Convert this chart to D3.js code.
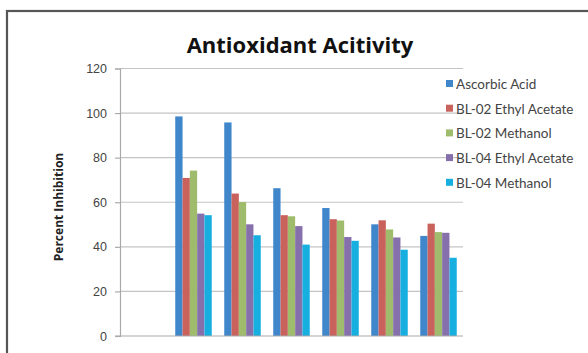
<!DOCTYPE html>
<html>
<head>
<meta charset="utf-8">
<script src="https://cdn.jsdelivr.net/npm/d3@7"></script>
<style>
  html, body { margin: 0; padding: 0; background: #fff; }
  svg { display: block; }
</style>
</head>
<body>
<script>
// Sample groups along the x axis; the first slot is left empty
const groups = ["", "1", "2", "3", "4", "5", "6"];
const seriesNames = ["Ascorbic Acid", "BL-02 Ethyl Acetate", "BL-02 Methanol", "BL-04 Ethyl Acetate", "BL-04 Methanol"];
const ascorbicAcid     = [null, 98.5, 95.8, 66.3, 57.4, 50.1, 44.9];
const bl02EthylAcetate = [null, 70.9, 63.9, 54.2, 52.4, 51.9, 50.4];
const bl02Methanol     = [null, 74.2, 60.1, 53.7, 51.8, 47.8, 46.6];
const bl04EthylAcetate = [null, 54.9, 50.1, 49.3, 44.4, 44.2, 46.3];
const bl04Methanol     = [null, 54.2, 45.2, 41.0, 42.7, 38.7, 35.1];
const yTicks = [0, 20, 40, 60, 80, 100, 120];
const colors = ["#3f86cb", "#c9625c", "#9ebc6b", "#8670ac", "#17afe0"];

const seriesValues = [ascorbicAcid, bl02EthylAcetate, bl02Methanol, bl04EthylAcetate, bl04Methanol];

const W = 588, H = 353;
const svg = d3.select("body").append("svg").attr("width", W).attr("height", H);

// chart frame (extends past the right and bottom edges)
svg.append("rect")
  .attr("x", 7).attr("y", 11).attr("width", 620).attr("height", 400)
  .attr("fill", "#fff").attr("stroke", "#555").attr("stroke-width", 2.2);

const plot = { left: 120, right: 463, top: 68.5, bottom: 336 };

const y = d3.scaleLinear().domain([0, 120]).range([plot.bottom, plot.top]);
const x0 = d3.scaleBand().domain(groups).range([plot.left, plot.right]).padding(0);
const groupFrac = 0.745;
const x1 = d3.scaleBand().domain(seriesNames)
  .range([x0.bandwidth() * (1 - groupFrac) / 2, x0.bandwidth() * (1 + groupFrac) / 2]);

// gridlines
svg.append("g").selectAll("line").data(yTicks.filter(t => t > 0)).join("line")
  .attr("x1", plot.left).attr("x2", plot.right)
  .attr("y1", d => y(d)).attr("y2", d => y(d))
  .attr("stroke", "#c4c4c4").attr("stroke-width", 1.2);

// y axis
const yAxis = d3.axisLeft(y).tickValues(yTicks).tickSize(5).tickPadding(8);
const gy = svg.append("g").attr("transform", `translate(${plot.left},0)`).call(yAxis);
gy.select(".domain").attr("stroke", "#aaa").attr("stroke-width", 1.2);
gy.selectAll(".tick line").attr("stroke", "#aaa").attr("stroke-width", 1.2);
gy.selectAll(".tick text")
  .attr("fill", "#444").style("font-family", "'Liberation Sans', Arial, sans-serif").style("font-size", "12.5px");

// bars
const g = svg.append("g");
groups.forEach((grp, gi) => {
  seriesNames.forEach((s, si) => {
    const v = seriesValues[si][gi];
    if (v == null) return;
    g.append("rect")
      .attr("x", x0(grp) + x1(s))
      .attr("y", y(v))
      .attr("width", x1.bandwidth())
      .attr("height", y(0) - y(v))
      .attr("fill", colors[si]);
  });
});

// x axis line
svg.append("line")
  .attr("x1", plot.left - 5).attr("x2", plot.right)
  .attr("y1", plot.bottom).attr("y2", plot.bottom)
  .attr("stroke", "#aaa").attr("stroke-width", 1.2);

// title
svg.append("text")
  .attr("x", 300).attr("y", 53)
  .attr("text-anchor", "middle")
  .style("font-family", "'Open Sans', Lato, sans-serif")
  .style("font-weight", "bold").style("font-size", "22px")
  .attr("fill", "#111")
  .text("Antioxidant Acitivity");

// y axis title
svg.append("text")
  .attr("transform", "translate(63,207) rotate(-90)")
  .attr("text-anchor", "middle")
  .style("font-family", "'Open Sans', Lato, sans-serif")
  .style("font-weight", "bold").style("font-size", "12px")
  .attr("fill", "#222")
  .text("Percent Inhibition");

// legend
const leg = svg.append("g").attr("transform", "translate(446,84)");
seriesNames.forEach((s, i) => {
  const row = leg.append("g").attr("transform", `translate(0,${i * 24.7})`);
  row.append("rect").attr("x", 0).attr("y", -4).attr("width", 7).attr("height", 7).attr("fill", colors[i]);
  row.append("text").attr("x", 10).attr("y", 5)
    .style("font-family", "Lato, 'Open Sans', sans-serif").style("font-size", "13.5px")
    .attr("fill", "#444").text(s);
});
</script>
</body>
</html>
